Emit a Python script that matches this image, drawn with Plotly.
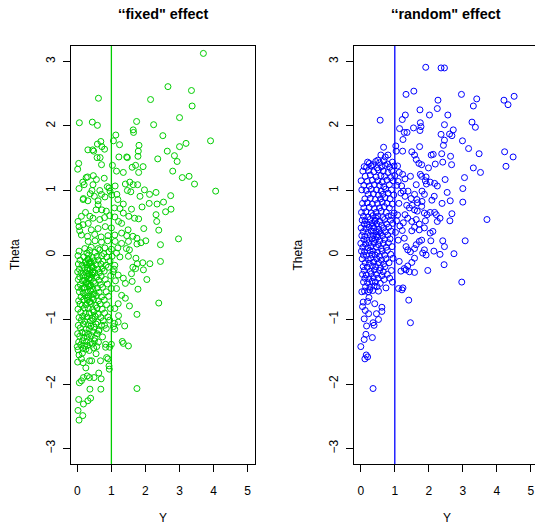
import plotly.graph_objects as go

# ---------------- data: (Y, Theta) pairs ----------------
# "fixed" effect panel
fixed_outer = [
    (3.70, 3.125), (2.66, 2.61), (3.35, 2.55), (2.15, 2.41), (3.37, 2.31), (3.00, 2.13),
    (3.91, 1.77), (3.19, 1.73), (3.00, 1.68), (2.85, 1.54), (2.93, 1.45), (2.80, 1.30),
    (3.08, 1.20), (3.28, 1.22), (3.44, 1.10), (4.06, 0.99), (2.51, 1.85), (2.24, 2.02),
    (2.36, 1.49), (2.64, 1.61), (2.74, 0.92), (2.53, 0.82), (2.59, 0.67), (2.75, 0.71),
    (2.31, 0.97), (2.34, 0.79), (2.31, 0.625), (2.33, 0.52), (2.39, 0.385), (2.97, 0.25),
    (2.44, 0.16), (2.44, -0.10), (2.13, -0.135), (2.04, -0.38), (2.39, -0.745), (1.75, -0.92),
    (1.75, -2.07), (1.50, -1.41), (1.32, -1.34), (1.39, -1.10), (1.53, -0.79), (1.41, -0.67),
    (1.78, -0.53), (1.74, 2.07), (1.64, 1.94), (1.65, 1.90), (1.81, 1.70), (1.79, 1.61),
    (1.78, 1.53), (1.71, 1.39), (1.93, 1.37), (1.61, 1.36), (1.80, 1.28), (1.45, 1.52),
    (1.47, 1.51), (1.35, 1.28), (1.54, 1.13), (1.64, 1.09), (1.77, 1.09), (1.47, 1.00),
    (1.57, 0.98), (1.97, 1.01), (2.12, 0.94), (1.84, 0.91), (2.11, 0.80), (1.90, 0.745),
    (1.59, 0.71), (1.35, 0.79), (1.51, 0.60), (1.95, 0.41), (1.68, 0.57), (1.80, 0.56),
    (1.63, 0.29), (1.75, 0.26), (1.75, 0.17), (1.87, 0.19), (2.01, 0.22), (1.45, 0.30),
    (1.50, 0.21), (1.53, 0.08), (1.50, -0.02), (1.72, -0.05), (1.92, -0.12), (1.76, -0.135),
    (1.63, -0.19), (1.71, -0.21), (1.94, -0.23), (1.59, -0.29), (1.61, -0.41), (1.41, -0.44),
    (1.30, -0.625), (1.20, -0.755), (1.20, -1.04), (1.21, -0.94), (1.10, -0.83), (1.15, -0.52),
    (1.05, -0.26), (1.20, -0.31), (1.35, -0.36), (1.10, -0.16), (1.25, -0.03), (1.15, 0.03),
    (1.10, -1.15), (1.35, -1.37), (0.83, -1.43), (0.95, -1.43), (0.90, -1.61),
    (1.30, 0.49), (1.35, 0.65), (1.41, 1.10), (1.49, 0.39), (1.30, 0.34), (1.44, 0.10),
]
fixed_upper = [
    (0.06, 2.05), (0.44, 2.06), (0.59, 2.01), (0.62, 2.43), (1.13, 1.86), (1.06, 1.77),
    (1.24, 1.71), (0.31, 1.63), (0.45, 1.63), (0.48, 1.61), (0.59, 1.72), (0.69, 1.76),
    (0.72, 1.68), (0.80, 1.64), (0.58, 1.51), (0.67, 1.51), (0.71, 1.40), (0.04, 1.42),
    (0.01, 1.33), (1.03, 1.39), (1.15, 1.30), (1.22, 1.52), (0.30, 1.21), (0.47, 1.23),
    (0.56, 1.17), (0.79, 1.19), (0.16, 1.13), (0.05, 1.03), (0.88, 1.06), (0.96, 0.99),
    (1.11, 1.07), (1.16, 0.94), (0.18, 0.875), (0.38, 0.95), (0.50, 0.91), (0.61, 0.84),
    (0.43, 1.00), (0.66, 1.00), (0.20, 1.09), (0.46, 1.09), (0.93, 1.04), (0.26, 1.20),
]
fixed_mid = [
    (0.71, 0.94), (0.81, 0.90), (1.01, 0.93), (1.19, 0.86), (0.31, 0.84), (0.17, 0.86),
    (0.61, 0.78), (0.72, 0.70), (0.85, 0.68), (1.09, 0.73), (1.25, 0.72), (0.12, 0.60),
    (0.02, 0.52), (0.17, 0.47), (0.32, 0.49), (0.46, 0.57), (0.66, 0.55), (0.80, 0.58),
    (0.95, 0.61), (1.10, 0.59), (1.21, 0.52), (1.00, 0.42), (0.82, 0.44), (0.61, 0.41),
    (0.41, 0.39), (0.07, 0.375), (0.12, 0.31), (0.30, 0.29), (0.51, 0.32), (0.70, 0.28),
    (0.90, 0.30), (1.10, 0.31), (0.32, 0.21), (0.52, 0.22), (0.71, 0.20), (0.89, 0.22),
    (1.11, 0.21), (1.30, 0.18), (0.22, 0.10), (0.41, 0.12), (0.61, 0.10), (0.81, 0.11),
    (1.00, 0.09), (1.19, 0.11), (0.24, 0.66), (0.55, 0.70), (0.37, 0.60), (0.05, 0.44),
]
fixed_core = [
    (0.05, 0.06), (0.28, 0.03), (0.36, 0.07), (0.52, 0.04), (0.66, 0.08), (0.78, 0.02), (0.93, 0.05),
    (0.02, -0.01), (0.19, -0.03), (0.33, 0.00), (0.44, -0.04), (0.58, -0.02), (0.71, -0.01),
    (0.87, -0.03), (1.02, -0.02),
    (0.08, -0.08), (0.25, -0.10), (0.31, -0.07), (0.40, -0.11), (0.49, -0.09), (0.62, -0.08),
    (0.75, -0.10), (0.96, -0.09),
    (0.03, -0.14), (0.14, -0.16), (0.27, -0.15), (0.35, -0.13), (0.42, -0.17), (0.55, -0.15),
    (0.69, -0.14), (0.84, -0.16),
    (0.06, -0.22), (0.21, -0.20), (0.30, -0.21), (0.38, -0.23), (0.47, -0.20), (0.60, -0.22),
    (0.73, -0.21), (0.91, -0.19), (1.08, -0.22),
    (0.01, -0.26), (0.11, -0.28), (0.24, -0.27), (0.33, -0.29), (0.45, -0.26), (0.52, -0.28),
    (0.66, -0.27), (0.79, -0.25),
    (0.07, -0.34), (0.18, -0.32), (0.29, -0.33), (0.37, -0.35), (0.43, -0.31), (0.57, -0.34),
    (0.70, -0.33), (0.98, -0.32),
    (0.03, -0.38), (0.15, -0.40), (0.22, -0.39), (0.34, -0.37), (0.48, -0.41), (0.63, -0.39),
    (0.82, -0.38), (1.12, -0.40),
    (0.09, -0.46), (0.26, -0.44), (0.31, -0.45), (0.40, -0.47), (0.53, -0.44), (0.68, -0.46),
    (0.88, -0.45),
    (0.02, -0.50), (0.13, -0.52), (0.20, -0.51), (0.36, -0.49), (0.46, -0.53), (0.59, -0.51),
    (0.74, -0.50), (1.00, -0.52),
    (0.06, -0.57), (0.17, -0.59), (0.28, -0.58), (0.39, -0.56), (0.50, -0.60), (0.64, -0.58),
    (0.85, -0.57),
    (0.11, -0.65), (0.23, -0.63), (0.33, -0.64), (0.44, -0.66), (0.56, -0.63), (0.71, -0.65),
    (0.92, -0.64),
    (0.04, -0.71), (0.19, -0.69), (0.30, -0.70), (0.37, -0.72), (0.48, -0.69), (0.62, -0.71),
    (0.79, -0.70),
    (0.08, -0.76), (0.14, -0.78), (0.26, -0.77), (0.41, -0.75), (0.54, -0.78), (0.67, -0.76),
    (0.86, -0.77),
    (0.02, -0.84), (0.21, -0.82), (0.32, -0.83), (0.45, -0.85), (0.58, -0.82), (0.73, -0.84),
    (0.97, -0.83),
    (0.10, -0.89), (0.24, -0.91), (0.35, -0.90), (0.49, -0.88), (0.61, -0.92), (0.80, -0.90),
    (0.05, -0.97), (0.16, -0.95), (0.29, -0.96), (0.43, -0.98), (0.52, -0.95), (0.69, -0.97),
    (0.90, -0.96),
    (0.12, -1.01), (0.22, -1.03), (0.38, -1.02), (0.47, -1.00), (0.60, -1.04), (0.76, -1.02),
    (0.95, -1.01),
    (0.03, -1.09), (0.18, -1.07), (0.31, -1.08), (0.40, -1.10), (0.55, -1.07), (0.71, -1.09),
    (0.09, -1.13), (0.26, -1.15), (0.36, -1.14), (0.49, -1.12), (0.64, -1.16), (0.85, -1.14),
    (0.01, -1.22), (0.14, -1.20), (0.23, -1.21), (0.33, -1.23), (0.45, -1.19), (0.58, -1.22),
    (0.07, -1.26), (0.19, -1.28), (0.29, -1.27), (0.41, -1.25), (0.52, -1.29), (0.74, -1.27),
    (0.04, -1.35), (0.15, -1.33), (0.27, -1.34), (0.38, -1.36), (0.50, -1.33), (0.62, -1.35),
    (0.10, -1.39), (0.21, -1.41), (0.30, -1.40), (0.44, -1.38), (0.57, -1.42),
    (0.02, -1.47), (0.16, -1.45), (0.25, -1.46), (0.35, -1.48), (0.48, -1.44),
    (0.32, -0.06), (0.37, -0.12), (0.43, -0.18), (0.29, -0.24), (0.35, -0.30), (0.41, -0.36),
    (0.27, -0.42), (0.33, -0.48), (0.39, -0.55), (0.45, -0.61), (0.30, -0.67), (0.36, -0.73),
    (0.24, -0.12), (0.46, -0.28), (0.22, -0.50),
]
fixed_lower = [
    (0.05, -2.56), (0.02, -2.41), (0.04, -2.24), (0.16, -2.49), (0.18, -2.31), (0.39, -2.22),
    (0.31, -2.26), (0.37, -2.08), (0.69, -2.08), (0.06, -1.98), (0.12, -1.95), (0.18, -1.90),
    (0.29, -1.875), (0.36, -1.90), (0.49, -1.90), (0.63, -1.83), (0.70, -1.92), (0.93, -1.72),
    (0.94, -1.77), (0.86, -1.59), (0.01, -1.66), (0.12, -1.61), (0.17, -1.67), (0.36, -1.64),
    (0.42, -1.64), (0.00, -1.42), (0.05, -1.55), (0.55, -1.53), (0.68, -1.64), (0.83, -1.385),
    (1.00, -1.385), (1.09, -1.06), (1.06, -1.11), (0.63, -1.18), (0.80, -1.09), (0.25, -1.75),
    (0.15, -1.52),
]

# "random" effect panel
random_outer = [
    (1.91, 2.91), (2.36, 2.90), (2.46, 2.90), (1.33, 2.49), (1.56, 2.54), (2.96, 2.49),
    (3.31, 2.31), (3.41, 2.42), (2.27, 2.40), (2.25, 2.27), (1.74, 2.25), (4.21, 2.40),
    (4.33, 2.33), (4.51, 2.46), (0.57, 2.09), (1.31, 2.17), (1.22, 2.10), (2.02, 2.17),
    (2.56, 2.17), (1.75, 2.05), (1.77, 1.99), (1.74, 1.93), (1.55, 1.97), (1.14, 1.96),
    (1.28, 1.90), (1.36, 1.90), (1.24, 1.79), (2.46, 2.02), (2.36, 1.87), (2.61, 1.875),
    (2.72, 1.94), (2.68, 1.85), (2.46, 1.78), (2.99, 1.77), (2.43, 1.70), (2.38, 1.57),
    (2.41, 1.44), (3.27, 2.06), (3.37, 1.98), (3.17, 1.65), (3.48, 1.57), (3.52, 1.28),
    (3.31, 1.35), (2.67, 1.40), (2.64, 1.53), (4.23, 1.60), (4.48, 1.52), (4.27, 1.375),
    (3.71, 0.55), (3.05, 1.20), (3.00, 1.03), (3.00, 0.82), (3.07, 0.22), (2.97, -0.42),
    (1.97, -0.24), (2.74, 0.02), (2.33, 0.01), (2.46, 0.13), (2.41, 0.22), (2.15, 0.06),
    (2.45, -0.15), (2.63, 0.84), (2.68, 0.64), (2.62, 0.53), (2.54, 0.97), (2.48, 1.17),
    (2.39, 0.80), (2.33, 0.57), (2.25, 0.52), (2.06, 0.22), (2.04, 0.34), (1.46, -1.05),
    (1.41, -0.70), (1.24, -0.51), (1.21, -0.54), (0.36, -2.07), (0.00, -1.42), (0.16, -1.55),
    (0.20, -1.58), (0.12, -1.61), (0.34, -1.28), (0.39, -1.09), (0.36, -1.05), (0.10, -1.31),
    (0.15, -1.23), (0.17, -1.10), (0.52, -1.00), (0.62, -0.81), (0.62, -0.875), (0.46, -0.91),
    (0.41, -0.755), (0.07, -0.73), (0.03, -0.57), (0.23, -0.91), (0.10, -0.99), (0.26, -0.54),
    (0.24, -0.66), (0.05, -0.80), (0.13, -0.86), (0.20, -0.72),
]
random_mid = [
    (1.46, 1.22), (1.50, 1.60), (1.58, 1.55), (1.63, 1.48), (1.73, 1.68), (1.71, 1.42),
    (1.79, 1.40), (1.75, 1.25), (1.79, 1.22), (1.92, 1.21), (1.90, 1.15), (1.93, 1.10),
    (2.07, 1.55), (2.13, 1.56), (1.99, 1.35), (2.19, 1.41), (2.04, 1.13), (2.17, 1.11),
    (2.25, 1.07), (2.09, 0.85), (2.16, 0.91), (1.80, 0.99), (1.87, 0.94), (1.63, 1.09),
    (1.58, 0.94), (1.39, 0.99), (1.25, 0.99), (1.18, 0.96), (1.30, 0.91), (1.48, 0.875),
    (1.65, 0.86), (1.80, 0.83), (1.35, 0.77), (1.43, 0.73), (1.51, 0.77), (1.58, 0.70),
    (1.67, 0.81), (1.79, 0.755), (1.66, 0.68), (1.87, 0.65), (1.95, 0.625), (2.04, 0.66),
    (2.17, 0.66), (2.22, 0.625), (1.30, 0.625), (1.38, 0.57), (1.50, 0.52), (1.63, 0.55),
    (1.72, 0.48), (1.58, 0.43), (1.50, 0.375), (1.72, 0.39), (1.87, 0.42), (1.90, 0.53),
    (2.12, 0.365), (1.28, 0.26), (1.33, 0.13), (1.38, 0.08), (1.46, 0.05), (1.58, 0.10),
    (1.63, 0.16), (1.72, 0.21), (1.79, 0.23), (1.87, 0.08), (1.82, 0.03), (1.92, 0.00),
    (1.58, -0.05), (1.50, -0.115), (1.38, -0.17), (1.43, -0.26), (1.58, -0.27), (1.28, -0.21),
    (1.13, -0.10), (1.18, -0.25), (1.33, -0.23), (1.11, -0.52), (1.03, 1.69), (1.04, 1.61),
    (1.23, 1.61), (1.08, 1.38), (1.13, 1.28), (1.23, 1.25), (1.30, 1.18), (1.10, 1.14),
    (1.20, 1.07), (0.67, 1.67), (0.80, 1.55), (0.59, 1.55), (0.36, 1.40), (0.50, 1.47),
    (0.72, 1.52), (1.15, 0.45), (1.22, 0.38), (1.08, 0.62), (1.12, 0.80), (1.25, 0.50),
]
random_core = [
    (0.20, 1.44), (0.25, 1.42), (0.44, 1.45), (0.55, 1.43), (0.68, 1.46), (0.79, 1.41), (0.93, 1.44),
    (0.10, 1.37), (0.17, 1.36), (0.30, 1.38), (0.48, 1.35), (0.61, 1.37), (0.72, 1.39),
    (0.85, 1.36), (0.98, 1.38),
    (0.06, 1.30), (0.23, 1.31), (0.38, 1.29), (0.52, 1.32), (0.66, 1.30), (0.80, 1.28), (0.91, 1.31),
    (0.13, 1.22), (0.28, 1.24), (0.45, 1.21), (0.59, 1.23), (0.70, 1.22), (0.88, 1.20), (1.00, 1.23),
    (0.01, 1.15), (0.19, 1.14), (0.34, 1.16), (0.50, 1.15), (0.63, 1.13), (0.77, 1.16), (0.95, 1.15),
    (0.09, 1.08), (0.25, 1.07), (0.40, 1.09), (0.55, 1.08), (0.68, 1.06), (0.84, 1.09), (1.06, 1.08),
    (0.03, 1.01), (0.16, 1.00), (0.31, 1.02), (0.46, 1.01), (0.60, 0.99), (0.73, 1.02), (0.90, 1.01),
    (0.22, 0.94), (0.37, 0.95), (0.52, 0.93), (0.65, 0.94), (0.80, 0.96), (0.97, 0.93),
    (0.12, 0.87), (0.28, 0.88), (0.43, 0.86), (0.58, 0.87), (0.71, 0.89), (0.86, 0.87),
    (0.05, 0.80), (0.19, 0.81), (0.34, 0.79), (0.49, 0.80), (0.63, 0.82), (0.77, 0.80), (0.93, 0.79),
    (0.09, 0.73), (0.25, 0.74), (0.40, 0.72), (0.55, 0.73), (0.69, 0.75), (0.84, 0.73),
    (0.02, 0.66), (0.15, 0.67), (0.31, 0.65), (0.45, 0.66), (0.60, 0.68), (0.75, 0.66), (0.98, 0.65),
    (0.08, 0.60), (0.21, 0.59), (0.36, 0.61), (0.50, 0.60), (0.64, 0.58), (0.81, 0.60), (0.90, 0.61),
    (0.04, 0.54), (0.13, 0.53), (0.27, 0.55), (0.42, 0.54), (0.56, 0.52), (0.70, 0.55),
    (0.87, 0.54), (1.05, 0.53),
    (0.10, 0.48), (0.19, 0.47), (0.33, 0.49), (0.47, 0.48), (0.61, 0.46), (0.76, 0.48), (0.94, 0.49),
    (0.01, 0.42), (0.15, 0.41), (0.25, 0.43), (0.39, 0.42), (0.53, 0.40), (0.67, 0.42), (0.82, 0.43),
    (0.07, 0.36), (0.21, 0.35), (0.31, 0.37), (0.45, 0.36), (0.58, 0.34), (0.72, 0.36),
    (0.89, 0.37), (1.02, 0.35),
    (0.03, 0.30), (0.12, 0.29), (0.28, 0.31), (0.37, 0.30), (0.50, 0.28), (0.64, 0.30), (0.79, 0.31),
    (0.09, 0.24), (0.18, 0.23), (0.33, 0.25), (0.43, 0.24), (0.56, 0.22), (0.70, 0.24),
    (0.86, 0.25), (1.10, 0.23),
    (0.00, 0.18), (0.14, 0.17), (0.24, 0.19), (0.39, 0.18), (0.52, 0.16), (0.66, 0.18), (0.81, 0.19),
    (0.06, 0.12), (0.20, 0.11), (0.30, 0.13), (0.46, 0.12), (0.60, 0.10), (0.75, 0.12), (0.92, 0.13),
    (0.02, 0.06), (0.11, 0.05), (0.27, 0.07), (0.36, 0.06), (0.49, 0.04), (0.63, 0.06), (0.78, 0.07),
    (0.08, 0.00), (0.17, -0.01), (0.33, 0.01), (0.42, 0.00), (0.55, -0.02), (0.70, 0.00), (0.88, 0.01),
    (0.04, -0.06), (0.22, -0.07), (0.29, -0.05), (0.47, -0.06), (0.61, -0.08), (0.74, -0.06),
    (0.95, -0.05),
    (0.13, -0.12), (0.25, -0.13), (0.38, -0.11), (0.52, -0.12), (0.67, -0.14), (0.83, -0.12),
    (0.07, -0.18), (0.19, -0.19), (0.34, -0.17), (0.44, -0.18), (0.58, -0.20), (0.71, -0.18),
    (0.10, -0.24), (0.28, -0.25), (0.40, -0.23), (0.55, -0.24), (0.66, -0.26), (0.90, -0.24),
    (0.05, -0.30), (0.16, -0.31), (0.31, -0.29), (0.46, -0.30), (0.62, -0.32), (0.78, -0.30),
    (0.12, -0.36), (0.24, -0.37), (0.37, -0.35), (0.51, -0.36), (0.69, -0.38), (0.85, -0.36),
    (0.08, -0.42), (0.20, -0.43), (0.33, -0.41), (0.43, -0.42), (0.57, -0.44), (0.93, -0.42),
    (0.14, -0.49), (0.27, -0.50), (0.39, -0.48), (0.48, -0.49), (0.74, -0.51),
    (0.11, -0.56), (0.22, -0.57), (0.35, -0.55), (0.52, -0.56),
    (0.35, 0.45), (0.41, 0.52), (0.47, 0.31), (0.38, 0.21), (0.53, 0.36), (0.44, 0.58),
]

# ---------------- styling ----------------
FONT = "Liberation Sans, Arial, Helvetica, sans-serif"
GREEN = "#00CD00"
BLUE = "#0000FF"
W, H = 535, 527


def split(*groups):
    xs, ys = [], []
    for g in groups:
        for a, b in g:
            xs.append(a)
            ys.append(b)
    return xs, ys


fx, fy = split(fixed_outer, fixed_upper, fixed_mid, fixed_core, fixed_lower)
rx, ry = split(random_outer, random_mid, random_core)

fig = go.Figure()
fig.add_trace(go.Scatter(
    x=fx, y=fy, mode="markers", xaxis="x", yaxis="y", showlegend=False,
    marker=dict(symbol="circle-open", size=6, color=GREEN, line=dict(width=1, color=GREEN)),
    hoverinfo="skip",
))
fig.add_trace(go.Scatter(
    x=rx, y=ry, mode="markers", xaxis="x2", yaxis="y2", showlegend=False,
    marker=dict(symbol="circle-open", size=6, color=BLUE, line=dict(width=1, color=BLUE)),
    hoverinfo="skip",
))

y_bottom = (H - 464) / H
y_top = (H - 46) / H
left_dom = [70.5 / W, 254.5 / W]
right_dom = [354.0 / W, 1.0]

tick_vals_x = [0, 1, 2, 3, 4, 5]
tick_vals_y = [-3, -2, -1, 0, 1, 2, 3]
tick_text_y = ["\u22123", "\u22122", "\u22121", "0", "1", "2", "3"]

xcommon = dict(
    tickvals=tick_vals_x, ticks="outside", ticklen=7, tickwidth=1, tickcolor="#000",
    showgrid=False, zeroline=False, showline=True, linecolor="#000", linewidth=1,
    tickfont=dict(family=FONT, size=12, color="#000"), ticklabelstandoff=9,
)
ycommon = dict(
    tickvals=tick_vals_y, ticktext=tick_text_y, ticks="outside", ticklen=7, tickwidth=1,
    tickcolor="#000", showgrid=False, zeroline=False, showline=True, linecolor="#000",
    linewidth=1, tickangle=-90, range=[-3.24, 3.24],
    tickfont=dict(family=FONT, size=12, color="#000"), ticklabelstandoff=3,
)

fig.update_layout(
    width=W, height=H, margin=dict(l=0, r=0, t=0, b=0),
    paper_bgcolor="white", plot_bgcolor="white",
    xaxis=dict(domain=left_dom, range=[-0.2, 5.2], anchor="y", mirror=True, **xcommon),
    yaxis=dict(domain=[y_bottom, y_top], anchor="x", mirror=True, **ycommon),
    xaxis2=dict(domain=right_dom, range=[-0.2, -0.2 + (535 - 354) / 34.0], anchor="y2",
                mirror=True, **xcommon),
    yaxis2=dict(domain=[y_bottom, y_top], anchor="x2", mirror=False, **ycommon),
)

# reference line at Y = 1 in each panel
fig.add_shape(type="line", xref="x", yref="y domain", x0=1, x1=1, y0=0, y1=1,
              line=dict(color=GREEN, width=1.3))
fig.add_shape(type="line", xref="x2", yref="y2 domain", x0=1, x1=1, y0=0, y1=1,
              line=dict(color=BLUE, width=1.3))

# panel titles and axis labels
for cx, title, tx in [(162.5, "\u2018\u2018fixed\" effect", 15), (445.7, "\u2018\u2018random\" effect", 297.5)]:
    fig.add_annotation(text="<b>" + title + "</b>", x=cx / W, y=(H - 14) / H,
                       xref="paper", yref="paper", showarrow=False,
                       xanchor="center", yanchor="middle",
                       font=dict(family=FONT, size=14.4, color="#000"))
    fig.add_annotation(text="Y", x=(cx + (0 if cx < 300 else 1)) / W, y=(H - 518) / H,
                       xref="paper", yref="paper", showarrow=False,
                       xanchor="center", yanchor="middle",
                       font=dict(family=FONT, size=12, color="#000"))
    fig.add_annotation(text="Theta", x=tx / W, y=(H - 255) / H, textangle=-90,
                       xref="paper", yref="paper", showarrow=False,
                       xanchor="center", yanchor="middle",
                       font=dict(family=FONT, size=12, color="#000"))

fig.write_html("out.html")
